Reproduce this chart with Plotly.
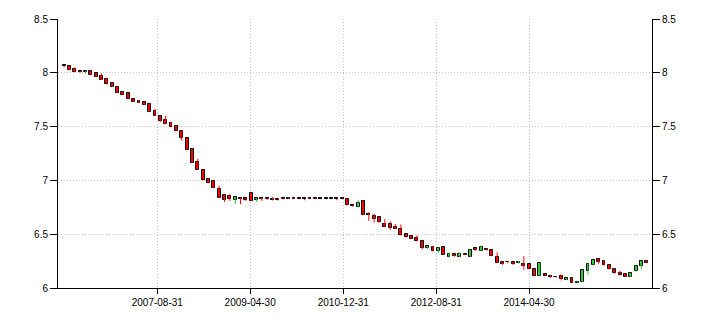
import plotly.graph_objects as go
import pandas as pd

# OHLC values (one candle every ~35 days)
opens = [8.07, 8.06, 8.035, 8.012, 8.005, 8.015, 7.995, 7.97, 7.94, 7.905,
         7.87, 7.82, 7.81, 7.755, 7.74, 7.73, 7.71, 7.645, 7.60, 7.56,
         7.535, 7.51, 7.46, 7.395, 7.29, 7.17, 7.10, 7.01, 6.995, 6.92,
         6.865, 6.855, 6.815, 6.84, 6.835, 6.88, 6.815, 6.84, 6.84, 6.83,
         6.83, 6.835, 6.83, 6.829, 6.828, 6.828, 6.828, 6.835, 6.828, 6.828,
         6.828, 6.828, 6.828, 6.83, 6.767, 6.757, 6.81, 6.69, 6.667, 6.66,
         6.595, 6.595, 6.57, 6.55, 6.50, 6.485, 6.465, 6.435, 6.375, 6.385,
         6.34, 6.38, 6.285, 6.32, 6.29, 6.312, 6.29, 6.37, 6.345, 6.365,
         6.355, 6.29, 6.245, 6.242, 6.24, 6.23, 6.225, 6.22, 6.175, 6.115,
         6.13, 6.115, 6.102, 6.115, 6.075, 6.09, 6.045, 6.06, 6.155, 6.21,
         6.265, 6.25, 6.21, 6.175, 6.14, 6.13, 6.105, 6.155, 6.20, 6.25]
highs = [8.07, 8.065, 8.05, 8.015, 8.015, 8.017, 7.997, 7.995, 7.942, 7.91,
         7.872, 7.822, 7.812, 7.757, 7.745, 7.732, 7.712, 7.665, 7.602, 7.60,
         7.545, 7.512, 7.462, 7.397, 7.292, 7.20, 7.102, 7.012, 6.997, 6.95,
         6.867, 6.875, 6.847, 6.842, 6.837, 6.882, 6.837, 6.842, 6.842, 6.845,
         6.832, 6.837, 6.84, 6.838, 6.83, 6.83, 6.83, 6.837, 6.83, 6.83,
         6.83, 6.83, 6.83, 6.832, 6.769, 6.818, 6.812, 6.705, 6.69, 6.662,
         6.64, 6.62, 6.595, 6.59, 6.502, 6.487, 6.49, 6.437, 6.392, 6.39,
         6.377, 6.382, 6.33, 6.322, 6.33, 6.32, 6.357, 6.372, 6.395, 6.367,
         6.357, 6.33, 6.247, 6.25, 6.242, 6.25, 6.295, 6.222, 6.177, 6.232,
         6.132, 6.117, 6.104, 6.125, 6.095, 6.092, 6.062, 6.167, 6.227, 6.262,
         6.267, 6.252, 6.212, 6.177, 6.16, 6.132, 6.137, 6.207, 6.252, 6.252]
lows = [8.05, 8.025, 8.005, 8.0, 7.99, 7.978, 7.963, 7.933, 7.89, 7.868,
        7.813, 7.793, 7.758, 7.728, 7.718, 7.703, 7.638, 7.598, 7.545, 7.523,
        7.493, 7.458, 7.37, 7.278, 7.163, 7.098, 6.998, 6.973, 6.928, 6.838,
        6.80, 6.81, 6.78, 6.78, 6.81, 6.808, 6.80, 6.81, 6.82, 6.813,
        6.813, 6.823, 6.826, 6.826, 6.825, 6.815, 6.825, 6.823, 6.825, 6.825,
        6.825, 6.815, 6.825, 6.768, 6.755, 6.755, 6.678, 6.625, 6.61, 6.608,
        6.568, 6.54, 6.548, 6.488, 6.468, 6.456, 6.433, 6.36, 6.36, 6.338,
        6.325, 6.308, 6.283, 6.29, 6.288, 6.306, 6.288, 6.345, 6.343, 6.348,
        6.298, 6.233, 6.215, 6.23, 6.215, 6.228, 6.17, 6.173, 6.113, 6.113,
        6.113, 6.095, 6.096, 6.07, 6.073, 6.048, 6.04, 6.058, 6.125, 6.208,
        6.225, 6.208, 6.173, 6.133, 6.115, 6.103, 6.103, 6.153, 6.18, 6.233]
closes = [8.06, 8.03, 8.01, 8.008, 8.012, 7.98, 7.965, 7.935, 7.90, 7.87,
          7.815, 7.795, 7.76, 7.73, 7.72, 7.705, 7.64, 7.60, 7.55, 7.525,
          7.495, 7.46, 7.39, 7.28, 7.165, 7.10, 7.00, 6.975, 6.93, 6.84,
          6.815, 6.825, 6.845, 6.83, 6.82, 6.81, 6.835, 6.83, 6.83, 6.815,
          6.815, 6.825, 6.828, 6.827, 6.826, 6.826, 6.826, 6.825, 6.826, 6.826,
          6.826, 6.826, 6.826, 6.77, 6.763, 6.787, 6.68, 6.675, 6.645, 6.61,
          6.57, 6.555, 6.55, 6.49, 6.47, 6.458, 6.435, 6.37, 6.39, 6.34,
          6.375, 6.31, 6.32, 6.30, 6.32, 6.308, 6.355, 6.355, 6.385, 6.35,
          6.30, 6.235, 6.225, 6.238, 6.22, 6.24, 6.205, 6.175, 6.115, 6.23,
          6.115, 6.10, 6.098, 6.08, 6.09, 6.05, 6.06, 6.165, 6.225, 6.26,
          6.245, 6.21, 6.175, 6.135, 6.125, 6.105, 6.135, 6.205, 6.25, 6.235]

start_date = "2005-12-29"
period = "35D"
tick_dates = ["2007-08-31", "2009-04-30", "2010-12-31", "2012-08-31", "2014-04-30"]
y_ticks = [6, 6.5, 7, 7.5, 8, 8.5]

dates = pd.date_range(start=start_date, periods=len(opens), freq=period)

RED = "#ff0000"
GREEN = "#33cc33"
inc = [c >= o for o, c in zip(opens, closes)]

fig = go.Figure()

# wicks
for flag, col in [(True, GREEN), (False, RED)]:
    xs, ys = [], []
    for d, h, l, f in zip(dates, highs, lows, inc):
        if f == flag:
            xs += [d, d, None]
            ys += [l, h, None]
    fig.add_trace(go.Scatter(x=xs, y=ys, mode="lines",
                             line=dict(color=col, width=1),
                             hoverinfo="skip", showlegend=False))

# bodies
base = [min(o, c) for o, c in zip(opens, closes)]
height = [max(abs(c - o), 0.008) for o, c in zip(opens, closes)]
fig.add_trace(go.Bar(x=dates, y=height, base=base,
                     width=19 * 86400000,
                     marker=dict(color=[GREEN if f else RED for f in inc],
                                 line=dict(color="black", width=1)),
                     showlegend=False))

# invisible trace for right axis
fig.add_trace(go.Scatter(x=[dates[0]], y=[closes[0]], yaxis="y2",
                         mode="markers", marker=dict(opacity=0),
                         hoverinfo="skip", showlegend=False))

font = dict(family="Liberation Sans, Arial, sans-serif", size=10, color="#000000")
axis_common = dict(range=[6, 8.5], tickvals=y_ticks,
                   ticktext=[f"{v:g}" for v in y_ticks],
                   showline=True, linecolor="black", linewidth=1,
                   ticks="outside", ticklen=7, tickcolor="black",
                   tickfont=font, zeroline=False)
grid = dict(showgrid=True, gridcolor="#c4c4c4", griddash="1px,2px", gridwidth=1)

fig.update_layout(
    width=710, height=325,
    margin=dict(l=58, r=58, t=19, b=37),
    paper_bgcolor="white", plot_bgcolor="white",
    bargap=0,
    xaxis=dict(type="date", range=["2005-11-19", "2016-07-13"],
               tickvals=tick_dates, ticktext=tick_dates,
               showline=True, linecolor="black", linewidth=1,
               ticks="outside", ticklen=5, tickcolor="black",
               tickfont=font, zeroline=False, **grid),
    yaxis=dict(**axis_common, side="left", **grid),
    yaxis2=dict(**axis_common, side="right", overlaying="y", showgrid=False),
    showlegend=False,
)

fig.write_html("out.html")
